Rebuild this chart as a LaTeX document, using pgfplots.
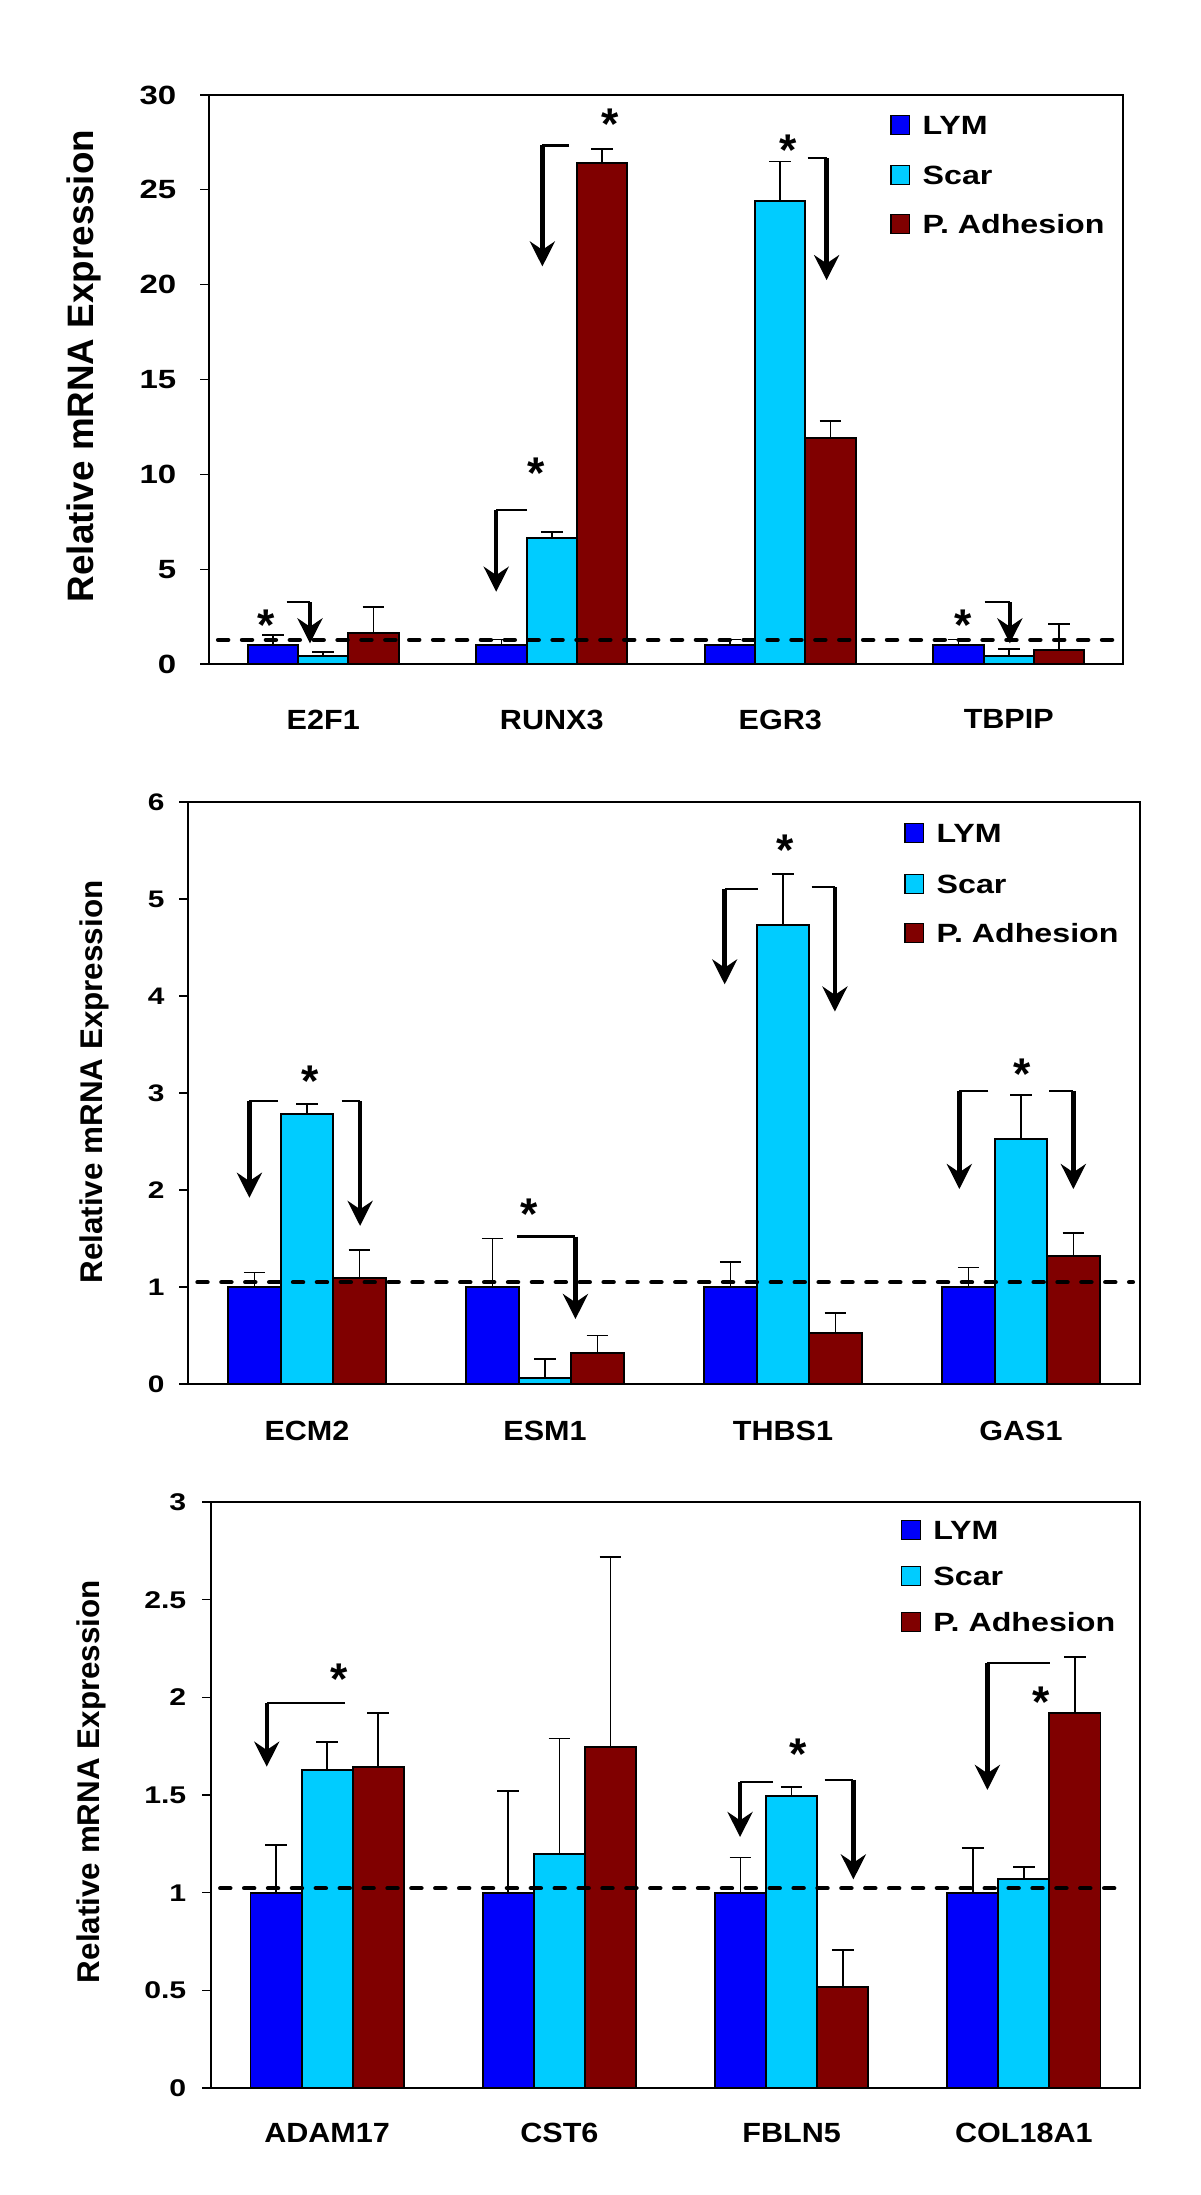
\documentclass[border=0pt]{standalone}
\usepackage{fontspec}
\setmainfont{Liberation Sans}
\newfontfamily\tickf[FakeStretch=1.25]{Liberation Sans}
\newfontfamily\legf[FakeStretch=1.22]{Liberation Sans}
\newfontfamily\xlabf[FakeStretch=1.1]{Liberation Sans}
\usepackage{pgfplots}
\usepackage{pgfplotstable}
\pgfplotsset{compat=1.18}
\usetikzlibrary{arrows.meta}

\definecolor{lym}{RGB}{0,0,250}
\definecolor{scar}{RGB}{0,204,255}
\definecolor{pa}{RGB}{128,0,0}

% x  LYM  err  Scar  err  PAdh  err
\pgfplotstableread{
x l le s se p pe
0 1.00 0.53 0.42 0.20 1.65 1.37
1 1.00 0.30 6.62 0.33 26.40 0.75
2 1.00 0.30 24.40 2.10 11.90 0.91
3 1.00 0.30 0.42 0.36 0.73 1.39
}\dataA
\pgfplotstableread{
x l le s se p pe
0 1.00 0.15 2.78 0.11 1.09 0.29
1 1.00 0.50 0.06 0.20 0.32 0.18
2 1.00 0.26 4.73 0.53 0.53 0.20
3 1.00 0.20 2.53 0.45 1.32 0.24
}\dataB
\pgfplotstableread{
x l le s se p pe
0 1.00 0.245 1.628 0.145 1.643 0.277
1 1.00 0.52 1.20 0.59 1.745 0.975
2 1.00 0.18 1.495 0.045 0.515 0.19
3 1.00 0.23 1.07 0.06 1.918 0.29
}\dataC

\tikzset{arr/.style={-{Stealth[length=9pt,width=9pt,inset=3pt]}},
  refline/.style={black, line width=1.6pt, line cap=round, dash pattern=on 3.6pt off 5pt}}
\pgfplotsset{
  panel/.style={
    scale only axis, clip=false,
    xmin=-0.5, xmax=3.5,
    xtick={0,1,2,3},
    xtick style={draw=none},
    ytick pos=left,
    xtick align=inside,
    ytick align=outside,
    major tick length=3.2pt,
    ytick style={line width=0.4pt, black},
    axis line style={line width=0.8pt},
    /pgf/number format/assume math mode=true,
    /pgf/number format/fixed,
    xticklabel style={font=\xlabf\bfseries\fontsize{10}{11}\selectfont, inner sep=0pt, anchor=north},
  },
  bars/.style={ybar, bar width=0.22, bar shift=0, draw=black, line width=0.7pt,
    error bars/y dir=plus, error bars/y explicit,
    error bars/error bar style={line width=0.6pt, black},
    error bars/error mark options={rotate=90, line width=0.6pt, black, mark size=3.9pt}},
}

\newcommand{\brk}[4]{%
  \draw[line width=0.8pt] (axis cs:#1,#3) -- (axis cs:#2,#3);
  \draw[line width=1.6pt, arr] (axis cs:#2,#3) -- (axis cs:#2,#4);}
\newcommand{\sig}[2]{%
  \node[font=\bfseries\fontsize{16}{16}\selectfont, anchor=base, yshift=-8.8pt, inner sep=0pt] at (axis cs:#1,#2) {*};}
\newcommand{\legent}[4]{%
  \draw[fill=#3, line width=0.5pt] ({0.36*#1pt},{-0.36*#2pt-3.35pt}) rectangle ++(6.7pt,6.7pt);
  \node[anchor=base west, inner sep=0pt, font=\legf\bfseries\fontsize{9.5}{10}\selectfont] at ({0.36*#1pt+11.2pt},{-0.36*#2pt-3.4pt}) {#4};}
\newcommand{\bars}[1]{%
  \addplot[bars, fill=lym] table[x expr=\thisrow{x}-0.22, y=l, y error=le] {#1};
  \addplot[bars, fill=scar] table[x expr=\thisrow{x}, y=s, y error=se] {#1};
  \addplot[bars, fill=pa] table[x expr=\thisrow{x}+0.22, y=p, y error=pe] {#1};}

\begin{document}
\begin{tikzpicture}
\useasboundingbox (0,0) rectangle (432pt,-790.2pt);

% ---------------- Panel 1 ----------------
\begin{axis}[panel, width=329.04pt, height=204.84pt, at={(75.24pt,-239.04pt)}, anchor=south west,
  ymin=0, ymax=30, ytick={0,5,...,30},
  yticklabel style={font=\tickf\bfseries\fontsize{9.5}{10}\selectfont, inner sep=0pt, anchor=east, xshift=-8.4pt},
  xticklabel style={yshift=-16.3pt},
  xticklabels={E2F1,RUNX3,EGR3,TBPIP}]
\bars{\dataA}
\addplot[refline] coordinates {(-0.46,1.27) (3.47,1.27)};
\sig{-0.248}{2.53}
\brk{-0.16}{-0.058}{3.25}{1.09}
\sig{0.931}{10.55}
\brk{0.892}{0.757}{8.12}{3.81}
\sig{1.255}{28.96}
\brk{1.076}{0.959}{27.34}{20.96}
\sig{2.036}{27.58}
\brk{2.12}{2.203}{26.66}{20.24}
\sig{2.80}{2.53}
\brk{2.894}{3.005}{3.25}{1.09}
\end{axis}
\node[rotate=90, inner sep=0pt, font=\bfseries\fontsize{13.25}{14}\selectfont] at ({0.36*84pt},{-0.36*366pt}) {Relative mRNA Expression};
\legent{891}{125}{lym}{LYM}
\legent{891}{175}{scar}{Scar}
\legent{891}{224}{pa}{P. Adhesion}

% ---------------- Panel 2 ----------------
\begin{axis}[panel, width=342.72pt, height=209.52pt, at={(67.68pt,-498.24pt)}, anchor=south west,
  ymin=0, ymax=6, ytick={0,1,...,6},
  yticklabel style={font=\tickf\bfseries\fontsize{8.6}{10}\selectfont, inner sep=0pt, anchor=east, xshift=-5.1pt},
  xticklabel style={yshift=-13pt},
  xticklabels={ECM2,ESM1,THBS1,GAS1}]
\bars{\dataB}
\addplot[refline] coordinates {(-0.46,1.05) (3.47,1.05)};
\sig{0.013}{3.22}
\brk{-0.121}{-0.242}{2.92}{1.92}
\brk{0.146}{0.223}{2.92}{1.63}
\sig{0.934}{1.85}
\brk{0.882}{1.128}{1.52}{0.67}
\sig{2.007}{5.6}
\brk{1.894}{1.755}{5.1}{4.12}
\brk{2.12}{2.218}{5.12}{3.84}
\sig{3.003}{3.29}
\brk{2.863}{2.741}{3.02}{2.01}
\brk{3.119}{3.22}{3.02}{2.01}
\end{axis}
\node[rotate=90, inner sep=0pt, font=\bfseries\fontsize{11.3}{12}\selectfont] at ({0.36*94pt},{-0.36*1082pt}) {Relative mRNA Expression};
\legent{905}{833}{lym}{LYM}
\legent{905}{884}{scar}{Scar}
\legent{905}{933}{pa}{P. Adhesion}

% ---------------- Panel 3 ----------------
\begin{axis}[panel, width=334.44pt, height=210.96pt, at={(75.96pt,-751.68pt)}, anchor=south west,
  ymin=0, ymax=3, ytick={0,0.5,...,3},
  yticklabel style={font=\tickf\bfseries\fontsize{8.7}{10}\selectfont, inner sep=0pt, anchor=east, xshift=-5.5pt},
  xticklabel style={yshift=-12.6pt},
  xticklabels={ADAM17,CST6,FBLN5,COL18A1}]
\bars{\dataC}
\addplot[refline] coordinates {(-0.46,1.023) (3.43,1.023)};
\sig{0.051}{2.14}
\brk{0.077}{-0.26}{1.97}{1.645}
\sig{2.026}{1.756}
\brk{1.92}{1.778}{1.568}{1.285}
\brk{2.142}{2.266}{1.577}{1.068}
\sig{3.076}{2.02}
\brk{3.112}{2.843}{2.177}{1.526}
\end{axis}
\node[rotate=90, inner sep=0pt, font=\bfseries\fontsize{11.3}{12}\selectfont] at ({0.36*91pt},{-0.36*1781.5pt}) {Relative mRNA Expression};
\legent{901.7}{1530}{lym}{LYM}
\legent{901.7}{1576}{scar}{Scar}
\legent{901.7}{1622}{pa}{P. Adhesion}
\end{tikzpicture}
\end{document}
